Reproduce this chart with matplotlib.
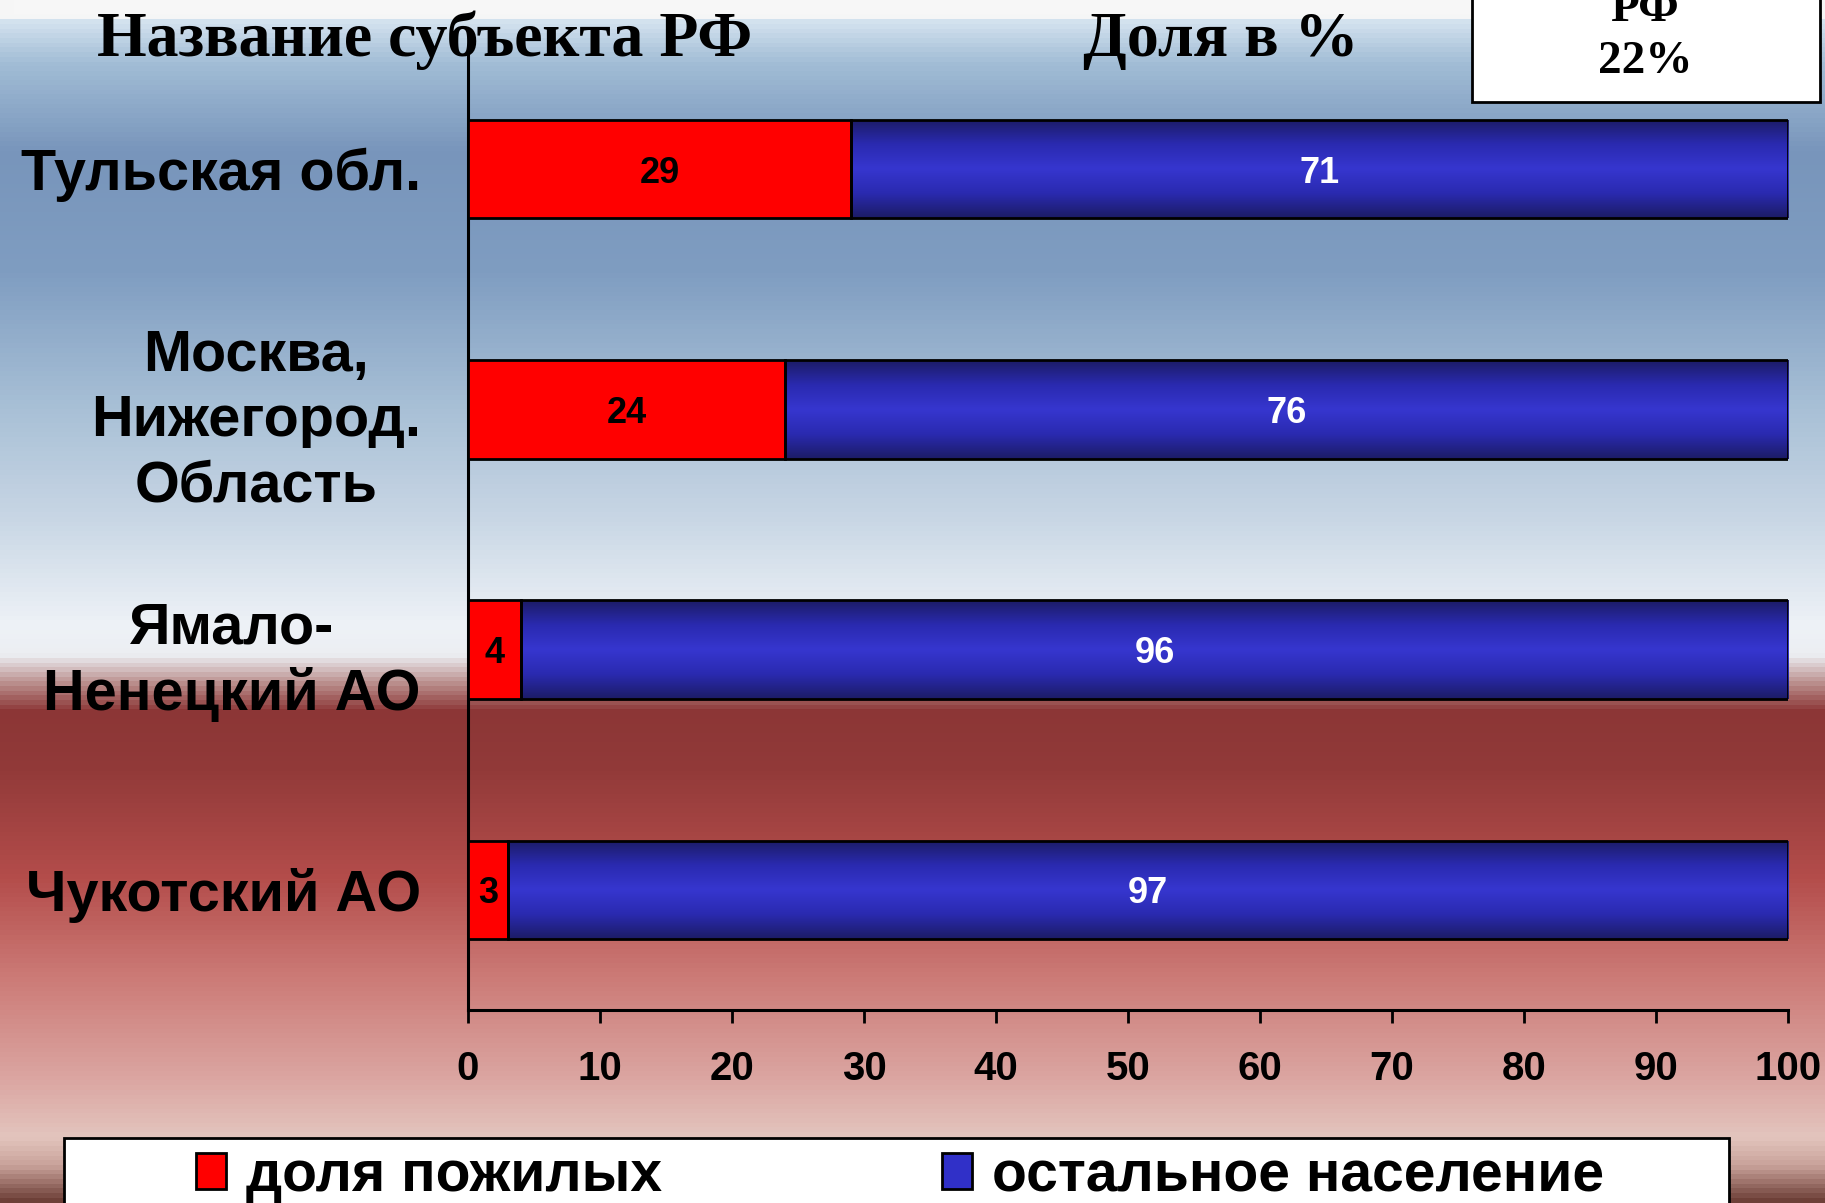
import numpy as np
import matplotlib
matplotlib.use("Agg")
import matplotlib.pyplot as plt
from matplotlib.colors import LinearSegmentedColormap
from matplotlib.patches import Rectangle, Patch

# ---- data ----
regions = ["Тульская обл.", "Москва,\nНижегород.\nОбласть", "Ямало-\nНенецкий АО", "Чукотский АО"]
elderly = [29, 24, 4, 3]
rest = [71, 76, 96, 97]
series_names = ["доля пожилых", "остальное население"]
xticks = [0, 10, 20, 30, 40, 50, 60, 70, 80, 90, 100]
title_left = "Название субъекта РФ"
title_right = "Доля в %"
avg_lines = ["РФ", "22%"]

# ---- style ----
W, H = 1825, 1203
SANS = ["Liberation Sans", "DejaVu Sans"]
SERIF = ["Liberation Serif", "DejaVu Serif"]
RED = "#ff0000"
BLUE = "#3030c8"

fig = plt.figure(figsize=(W / 100, H / 100), dpi=100)

# background gradient
bg_stops = [(0, "#f7f7f7"), (14, "#f7f7f7"), (17, "#d6e4f0"), (60, "#a2bdd6"),
            (150, "#7895bb"), (270, "#7f9dc1"), (400, "#a6bed5"), (520, "#c9d7e5"),
            (625, "#eef2f7"), (655, "#eceef2"), (685, "#b88a88"), (712, "#8c3636"),
            (770, "#923a39"), (880, "#b44d4b"), (980, "#cc7b77"), (1080, "#dba5a1"),
            (1140, "#e3c5be"), (1168, "#c9a29a"), (1203, "#6e4038")]
bg_cmap = LinearSegmentedColormap.from_list("bg", [(y / H, c) for y, c in bg_stops])
bg = fig.add_axes([0, 0, 1, 1], zorder=-10)
bg.imshow(np.linspace(0, 1, H).reshape(-1, 1), aspect="auto", cmap=bg_cmap,
          extent=[0, 1, 0, 1], interpolation="bilinear")
bg.set_axis_off()

ax = fig.add_axes([468 / W, 1 - 1010 / H, (1788 - 468) / W, (1010 - 49) / H])
ax.set_facecolor("none")

y = np.arange(len(regions))
c1 = ax.barh(y, elderly, height=0.41, color=RED, edgecolor="black", linewidth=2, zorder=3)
c2 = ax.barh(y, rest, left=elderly, height=0.41, color=BLUE, edgecolor="black", linewidth=2, zorder=3)

# vertical gradient inside blue bars
blue_cmap = LinearSegmentedColormap.from_list("bb", ["#1c1c66", "#2a2ab0", "#3636cf", "#2a2ab0", "#1c1c66"])
grad = np.linspace(0, 1, 200).reshape(-1, 1)
for bar in c2:
    x0, y0, w, h = bar.get_x(), bar.get_y(), bar.get_width(), bar.get_height()
    im = ax.imshow(grad, extent=[x0, x0 + w, y0, y0 + h], aspect="auto", cmap=blue_cmap,
                   zorder=2.9, interpolation="bilinear")
    im.set_clip_path(bar)
    bar.set_facecolor("none")

ax.set_xlim(0, 100)
ax.set_ylim(len(regions) - 0.5, -0.5)
ax.set_aspect("auto")

for s in ["top", "right"]:
    ax.spines[s].set_visible(False)
for s in ["left", "bottom"]:
    ax.spines[s].set_linewidth(2.2)
    ax.spines[s].set_color("black")

ax.set_yticks(y, regions)
ax.tick_params(axis="y", length=0, pad=34)
for lab in ax.get_yticklabels():
    lab.set_fontsize(41.5)
    lab.set_fontweight("bold")
    lab.set_family(SANS)
    lab.set_multialignment("center")
    lab.set_linespacing(1.27)

ax.set_xticks(xticks)
ax.tick_params(axis="x", direction="out", length=9, width=2, pad=20)
for lab in ax.get_xticklabels():
    lab.set_fontsize(29)
    lab.set_fontweight("bold")
    lab.set_family(SANS)

for cont, col in [(c1, "black"), (c2, "white")]:
    for t in ax.bar_label(cont, label_type="center", fontsize=26, fontweight="bold", color=col, family=SANS):
        t.set_va("center_baseline")

# titles
fig.text(97 / W, 1 - 56 / H, title_left, fontsize=46, fontweight="bold", family=SERIF, va="baseline")
fig.text(1083 / W, 1 - 56 / H, title_right, fontsize=46, fontweight="bold", family=SERIF, va="baseline")

# top-right box
fig.patches.append(Rectangle((1472 / W, 1 - 102 / H), (1820 - 1472) / W, 0.2, transform=fig.transFigure,
                             facecolor="white", edgecolor="black", linewidth=2, zorder=5))
for i, line in enumerate(avg_lines):
    fig.text(1645 / W, 1 - (21 + 52 * i) / H, line, fontsize=34, fontweight="bold", family=SERIF,
             ha="center", va="baseline", zorder=6)

# legend (frame drawn as a box that runs off the bottom edge)
fig.patches.append(Rectangle((64 / W, -0.05), (1729 - 64) / W, 0.05 + 1 - 1138 / H, transform=fig.transFigure,
                             facecolor="white", edgecolor="black", linewidth=2, zorder=5))
handles = [Patch(facecolor=RED, edgecolor="black", linewidth=2),
           Patch(facecolor=BLUE, edgecolor="black", linewidth=2)]
leg = fig.legend(handles, series_names, loc="center", ncol=2,
                 bbox_to_anchor=(900 / W, 1 - 1176 / H),
                 prop={"family": SANS, "weight": "bold", "size": 41},
                 frameon=False, handlelength=0.54, handleheight=0.62, handletextpad=0.35,
                 columnspacing=4.9, borderpad=0, borderaxespad=0)
leg.set_zorder(6)

fig.savefig("out.png", dpi=100)
